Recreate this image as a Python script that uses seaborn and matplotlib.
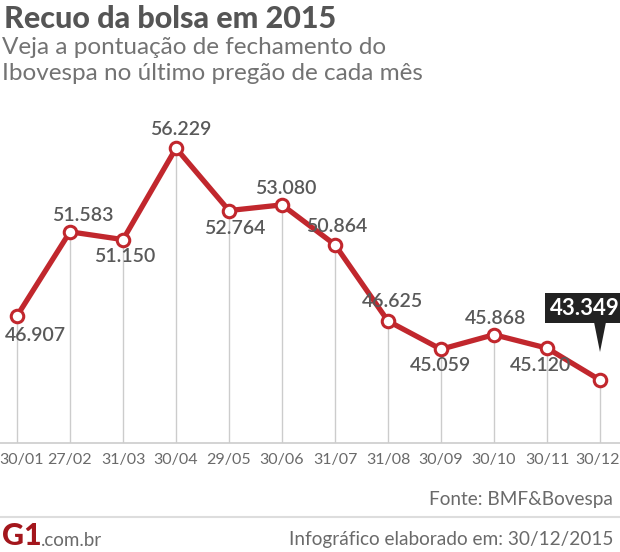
import numpy as np
import pandas as pd
import matplotlib.pyplot as plt
import seaborn as sns
from matplotlib.patches import Polygon

# Ibovespa closing points, last trading day of each month (2015)
dates = ["30/01", "27/02", "31/03", "30/04", "29/05", "30/06",
         "31/07", "31/08", "30/09", "30/10", "30/11", "30/12"]
points = [46.907, 51.583, 51.150, 56.229, 52.764, 53.080,
          50.864, 46.625, 45.059, 45.868, 45.120, 43.349]
labels = ["46.907", "51.583", "51.150", "56.229", "52.764", "53.080",
          "50.864", "46.625", "45.059", "45.868", "45.120", "43.349"]

# label offsets in pixels (dx, dy) relative to each point
label_offsets = [(18, -20), (13, 16), (2, -17), (5, 19), (6, -18), (4, 16),
                 (2, 18), (4, 20), (0, -16), (2, 16), (-7, -17), (-15, 72)]

RED = "#c1272d"
GRAY_TXT = "#595959"
FOOT_TXT = "#6a6a6a"
LIGHT = "#cccccc"

sns.set_style("white")
plt.rcParams["font.family"] = ["Lato", "DejaVu Sans"]

df = pd.DataFrame({"pos": np.arange(len(dates)), "pontos": points})

W, H = 620, 552
fig = plt.figure(figsize=(W / 100, H / 100), dpi=100)
ax = fig.add_axes([0, 109 / H, 1, 313 / H])

# vertical guide lines from each point down to the baseline
ymin = 39.85
ax.vlines(df["pos"], ymin, df["pontos"], color=LIGHT, lw=1, zorder=1)

sns.lineplot(data=df, x="pos", y="pontos", ax=ax, color=RED, lw=3.8,
             marker="o", markersize=9, markerfacecolor="white",
             markeredgecolor=RED, markeredgewidth=2.2, zorder=3)

ax.set_xlim(-17 / 53, 11 + 20 / 53)
ax.set_ylim(ymin, ymin + 313 / 18)
ax.set_xticks([])
ax.set_yticks([])
ax.set_xlabel("")
ax.set_ylabel("")
for s in ["top", "left", "right"]:
    ax.spines[s].set_visible(False)
ax.spines["bottom"].set_color(LIGHT)
ax.spines["bottom"].set_linewidth(1.2)

# date labels under the baseline (edge ones kept inside the picture)
xform = ax.get_xaxis_transform()
for i, d in enumerate(dates):
    ha = "center"
    dx = 0
    if i == 0:
        dx = 5
    elif i == len(dates) - 1:
        dx = -2
    ax.annotate(d, (i, 0), xycoords=xform, xytext=(dx, -17),
                textcoords="offset pixels", ha=ha, va="center",
                fontsize=11.5, color=FOOT_TXT, annotation_clip=False)

# value labels
last = len(points) - 1
for i, (v, lab) in enumerate(zip(points, labels)):
    dx, dy = label_offsets[i]
    if i == last:
        ax.annotate(lab, (i, v), xytext=(dx, dy), textcoords="offset pixels",
                    ha="center", va="center", fontsize=16, fontweight="bold",
                    color="white", zorder=5,
                    bbox=dict(boxstyle="square,pad=0.22", fc="#222222", ec="none"))
        # pointer of the callout
        px, py = ax.transData.transform((i, v))
        tri = Polygon([[px - 6, py + 58], [px + 6, py + 58], [px, py + 28]],
                      closed=True, transform=None, fc="#222222", ec="none", zorder=5)
        fig.patches.append(tri)
    else:
        ax.annotate(lab, (i, v), xytext=(dx, dy), textcoords="offset pixels",
                    ha="center", va="center", fontsize=14, fontweight="semibold",
                    color=GRAY_TXT, zorder=4)

# titles
fig.text(4 / W, 1 - 19 / H, "Recuo da bolsa em 2015", fontsize=22,
         fontweight="black", color="#555555", va="center", ha="left")
fig.text(2 / W, 1 - 47 / H, "Veja a pontuação de fechamento do", fontsize=17.5,
         color="#737373", va="center", ha="left")
fig.text(2 / W, 1 - 73 / H, "Ibovespa no último pregão de cada mês", fontsize=17.5,
         color="#737373", va="center", ha="left")

# footer
fig.text(613 / W, 1 - 500 / H, "Fonte: BMF&Bovespa", fontsize=13.7,
         color=FOOT_TXT, ha="right", va="center")
fig.add_artist(plt.Line2D([0, 1], [1 - 517 / H, 1 - 517 / H], color="#dddddd", lw=1.5))
fig.text(2 / W, 1 - 536 / H, "G1", fontsize=22, fontweight="black",
         color="#a3161c", ha="left", va="center")
fig.text(41 / W, 1 - 541 / H, ".com.br", fontsize=13.5,
         color=FOOT_TXT, ha="left", va="center")
fig.text(613 / W, 1 - 540 / H, "Infográfico elaborado em: 30/12/2015",
         fontsize=13.7, color=FOOT_TXT, ha="right", va="center")

fig.savefig("out.png", dpi=100)
